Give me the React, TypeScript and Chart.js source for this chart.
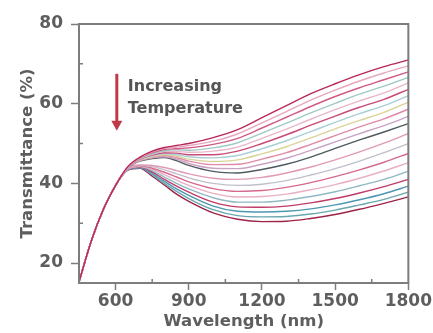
import React, { useEffect, useRef } from 'react';
import { Chart, registerables } from 'chart.js';

Chart.register(...registerables);

// Wavelength sampling (nm)
const wavelengths = [450, 500, 550, 600, 650, 700, 750, 800, 850, 900, 1000, 1100, 1200, 1300, 1400, 1500, 1600, 1700, 1800];

// Shared steep rise (450–600 nm), identical for every temperature
const risingPart = [15.3, 25.5, 33.5, 39.5];

// Transmittance (%) from 650 nm to 1800 nm, coolest (top) to hottest (bottom)
const curve00 = [44.2, 46.6, 48.1, 49.0, 49.5, 50.0, 51.5, 53.5, 56.5, 59.5, 62.5, 65.0, 67.3, 69.3, 71.0];
const curve01 = [44.1, 46.5, 47.9, 48.8, 49.1, 49.5, 50.6, 52.4, 55.2, 58.0, 60.9, 63.4, 65.7, 67.7, 69.5];
const curve02 = [44.1, 46.4, 47.7, 48.5, 48.7, 48.9, 49.8, 51.3, 53.9, 56.6, 59.3, 61.8, 64.0, 66.0, 68.0];
const curve03 = [44.0, 46.3, 47.5, 48.2, 48.4, 48.3, 48.9, 50.2, 52.6, 55.1, 57.7, 60.1, 62.4, 64.4, 66.6];
const curve04 = [44.0, 46.2, 47.3, 48.0, 48.0, 47.8, 48.1, 49.1, 51.3, 53.6, 56.1, 58.5, 60.7, 62.7, 65.2];
const curve05 = [43.9, 46.1, 47.1, 47.7, 47.6, 47.2, 47.2, 48.1, 50.0, 52.2, 54.6, 56.9, 59.1, 61.1, 63.6];
const curve06 = [43.9, 46.0, 46.9, 47.5, 47.2, 46.7, 46.4, 47.0, 48.7, 50.7, 53.0, 55.3, 57.5, 59.5, 62.0];
const curve07 = [43.9, 45.9, 46.7, 47.2, 46.8, 46.1, 45.5, 45.9, 47.4, 49.2, 51.4, 53.7, 55.8, 57.8, 60.4];
const curve08 = [43.8, 45.8, 46.6, 47.0, 46.5, 45.6, 44.7, 44.8, 46.1, 47.7, 49.8, 52.0, 54.2, 56.2, 58.6];
const curve09 = [43.8, 45.7, 46.4, 46.7, 46.1, 45.0, 43.8, 43.7, 44.8, 46.3, 48.3, 50.4, 52.5, 54.5, 56.8];
const curve10 = [43.8, 45.6, 46.2, 46.5, 45.7, 44.5, 43.0, 42.6, 43.5, 44.8, 46.6, 48.8, 50.9, 52.9, 55.0];
const curve11 = [43.7, 44.6, 44.5, 44.0, 43.2, 42.4, 41.3, 41.0, 41.5, 42.6, 44.1, 45.9, 47.9, 50.1, 52.5];
const curve12 = [43.7, 44.5, 44.2, 43.4, 42.4, 41.4, 40.0, 39.5, 39.8, 40.7, 42.1, 43.7, 45.6, 47.7, 50.0];
const curve13 = [43.6, 44.4, 43.8, 42.8, 41.6, 40.4, 38.7, 38.0, 38.2, 39.0, 40.2, 41.7, 43.4, 45.3, 47.5];
const curve14 = [43.6, 44.3, 43.5, 42.2, 40.8, 39.5, 37.5, 36.6, 36.7, 37.3, 38.4, 39.7, 41.3, 43.1, 45.2];
const curve15 = [43.5, 44.2, 43.2, 41.6, 40.0, 38.6, 36.4, 35.3, 35.3, 35.8, 36.7, 37.9, 39.4, 41.0, 43.0];
const curve16 = [43.5, 44.1, 42.9, 41.0, 39.3, 37.8, 35.3, 34.1, 34.0, 34.3, 35.1, 36.2, 37.6, 39.2, 41.0];
const curve17 = [43.4, 44.0, 42.5, 40.5, 38.6, 37.0, 34.3, 33.0, 32.8, 33.0, 33.6, 34.6, 35.9, 37.4, 39.3];
const curve18 = [43.4, 43.9, 42.2, 40.0, 38.0, 36.2, 33.4, 31.9, 31.6, 31.7, 32.3, 33.3, 34.6, 36.0, 37.8];
const curve19 = [43.3, 43.8, 41.8, 39.6, 37.3, 35.5, 32.6, 31.0, 30.4, 30.5, 31.2, 32.2, 33.5, 35.0, 36.6];

const curves = [
  curve00, curve01, curve02, curve03, curve04, curve05, curve06, curve07, curve08, curve09,
  curve10, curve11, curve12, curve13, curve14, curve15, curve16, curve17, curve18, curve19,
];

const curveColors = [
  '#b8285a', '#e7a6c0', '#d05a84', '#9fc9c6', '#e9b7c9', '#c84a78', '#a9cfd6', '#d9d49a', '#e08aa8', '#c9a3c4',
  '#4f5b60', '#e29ab4', '#c0c0cc', '#d66a8e', '#e8b0c4', '#8fb8c4', '#c03c68', '#4e97b3', '#6aa7b0', '#9e2447',
];

const xTickValues = [600, 900, 1200, 1500, 1800];
const xMinorTicks = [750, 1050, 1350, 1650];
const yTickValues = [20, 40, 60, 80];
const yMinorTicks = [30, 50, 70];

const annotationLines = ['Increasing', 'Temperature'];

const FONT = '"DejaVu Sans", sans-serif';
const AXIS_GREY = '#7d7d7d';
const TEXT_GREY = '#5e5e5e';

const decorPlugin = {
  id: 'decor',
  afterDatasetsDraw(chart: any) {
    const { ctx, chartArea, scales } = chart;
    const { left, top, right, bottom } = chartArea;
    const x = scales.x;
    const y = scales.y;
    ctx.save();
    // frame
    ctx.strokeStyle = AXIS_GREY;
    ctx.lineWidth = 2;
    ctx.strokeRect(left, top, right - left, bottom - top);
    // minor ticks
    ctx.lineWidth = 1.5;
    ctx.beginPath();
    xMinorTicks.forEach((v) => {
      const px = x.getPixelForValue(v);
      ctx.moveTo(px, bottom);
      ctx.lineTo(px, bottom - 4);
    });
    yMinorTicks.forEach((v) => {
      const py = y.getPixelForValue(v);
      ctx.moveTo(left, py);
      ctx.lineTo(left + 4, py);
    });
    ctx.stroke();

    // arrow
    const ax = x.getPixelForValue(605);
    const ay0 = y.getPixelForValue(67.5);
    const ay1 = y.getPixelForValue(53.2);
    ctx.strokeStyle = '#c0394a';
    ctx.fillStyle = '#c0394a';
    ctx.lineWidth = 3;
    ctx.beginPath();
    ctx.moveTo(ax, ay0);
    ctx.lineTo(ax, ay1 - 8);
    ctx.stroke();
    ctx.beginPath();
    ctx.moveTo(ax - 5.5, ay1 - 10);
    ctx.lineTo(ax + 5.5, ay1 - 10);
    ctx.lineTo(ax, ay1);
    ctx.closePath();
    ctx.fill();

    // text
    ctx.fillStyle = '#555555';
    ctx.font = `bold 16px ${FONT}`;
    ctx.textAlign = 'left';
    ctx.textBaseline = 'middle';
    const tx = x.getPixelForValue(650);
    ctx.fillText(annotationLines[0], tx, y.getPixelForValue(64.25));
    ctx.fillText(annotationLines[1], tx, y.getPixelForValue(58.75));
    ctx.restore();
  },
};

export default function App() {
  const canvasRef = useRef<HTMLCanvasElement | null>(null);

  useEffect(() => {
    if (!canvasRef.current) return;
    const datasets = curves.map((c, i) => ({
      label: `T${i + 1}`,
      data: wavelengths.map((w, j) => ({ x: w, y: j < risingPart.length ? risingPart[j] : c[j - risingPart.length] })),
      borderColor: curveColors[i],
      borderWidth: 1.4,
      pointRadius: 0,
      fill: false,
      cubicInterpolationMode: 'monotone' as const,
    }));

    const chart = new Chart(canvasRef.current, {
      type: 'line',
      data: { datasets },
      plugins: [decorPlugin],
      options: {
        animation: false,
        responsive: false,
        layout: { padding: { top: 24, right: 24, left: 0, bottom: 0 } },
        plugins: { legend: { display: false }, tooltip: { enabled: false } },
        scales: {
          x: {
            type: 'linear',
            min: 450,
            max: 1800,
            afterBuildTicks: (scale: any) => {
              scale.ticks = xTickValues.map((v) => ({ value: v }));
            },
            afterFit: (scale: any) => {
              scale.height = 50;
            },
            grid: { drawOnChartArea: false, drawTicks: true, tickLength: 7, tickColor: AXIS_GREY, tickWidth: 1.5 },
            border: { display: false },
            ticks: {
              color: TEXT_GREY,
              font: { family: FONT, size: 17, weight: 'bold' },
              padding: 1,
              maxRotation: 0,
              autoSkip: false,
              callback: (v: any) => String(v),
            },
            title: {
              display: true,
              text: 'Wavelength (nm)',
              color: TEXT_GREY,
              font: { family: FONT, size: 16.5, weight: 'bold' },
              padding: { top: 0, bottom: 1 },
            },
          },
          y: {
            type: 'linear',
            min: 15,
            max: 80,
            afterBuildTicks: (scale: any) => {
              scale.ticks = yTickValues.map((v) => ({ value: v }));
            },
            afterFit: (scale: any) => {
              scale.width = 79;
            },
            grid: { drawOnChartArea: false, drawTicks: true, tickLength: 8, tickColor: AXIS_GREY, tickWidth: 1.5 },
            border: { display: false },
            ticks: {
              color: TEXT_GREY,
              font: { family: FONT, size: 17, weight: 'bold' },
              padding: 8,
              callback: (v: any) => String(v),
            },
            title: {
              display: true,
              text: 'Transmittance (%)',
              color: TEXT_GREY,
              font: { family: FONT, size: 16.5, weight: 'bold' },
              padding: { top: 18, bottom: 0 },
            },
          },
        },
      },
    });
    return () => chart.destroy();
  }, []);

  return (
    <div style={{ position: 'absolute', left: 0, top: 0, width: 433, height: 333, background: '#ffffff' }}>
      <canvas ref={canvasRef} width={433} height={333} />
    </div>
  );
}
